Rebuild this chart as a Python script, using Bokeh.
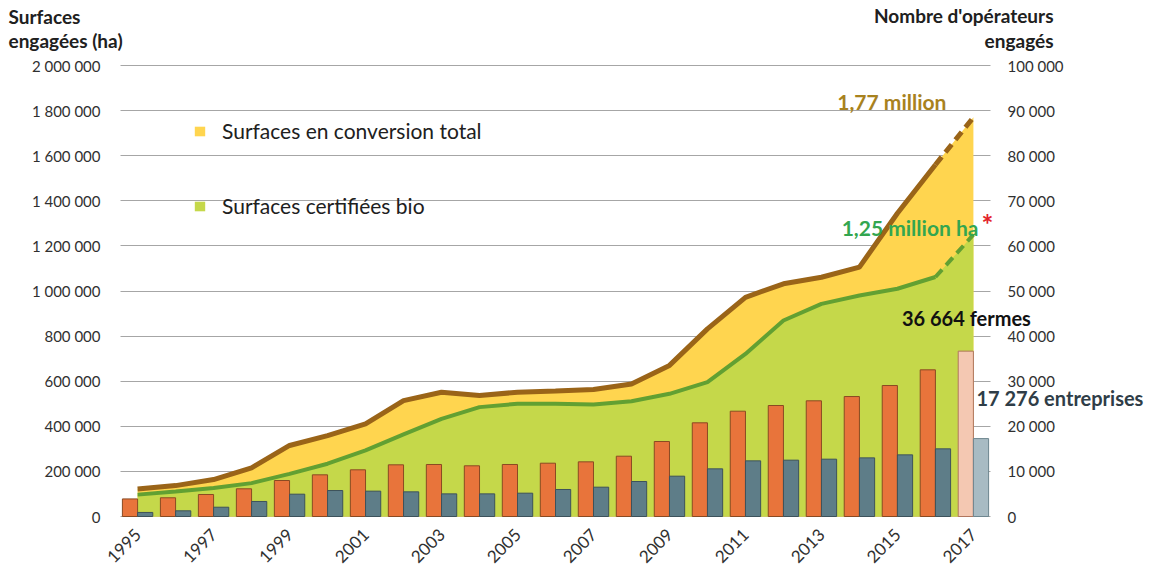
import math
from bokeh.plotting import figure
from bokeh.models import (ColumnDataSource, Range1d, LinearAxis, FixedTicker,
                          Label, Legend, LegendItem)
from bokeh.transform import dodge
from bokeh.embed import file_html
from bokeh.resources import INLINE

# ---------------- data ----------------
years = list(range(1995, 2018))
total_surface = [122000, 137000, 164000, 216000, 315000, 359000, 411000, 514000,
                 551000, 537000, 551000, 556000, 563000, 588000, 670000, 832000,
                 972000, 1032000, 1061000, 1106000, 1345000, 1560000, 1770000]
certified_surface = [97000, 111000, 126000, 148000, 189000, 234000, 293000, 364000,
                     433000, 485000, 500000, 500000, 497000, 511000, 544000, 596000,
                     721000, 869000, 943000, 980000, 1010000, 1062000, 1250000]
farms = [3900, 4150, 4880, 6140, 7980, 9240, 10350, 11460, 11530, 11240, 11530,
         11820, 12120, 13370, 16630, 20770, 23350, 24610, 25650, 26600, 29040,
         32520, 36664]
companies = [900, 1260, 2060, 3330, 4950, 5760, 5620, 5470, 5020, 5020, 5170,
             5990, 6500, 7760, 8940, 10570, 12340, 12490, 12710, 13000, 13670,
             15000, 17276]
label_years = list(range(1995, 2018, 2))
surface_ticks = list(range(0, 2000001, 200000))
ops_ticks = list(range(0, 100001, 10000))

legend_labels = ["Surfaces en conversion total", "Surfaces certifiées bio"]
left_title = ["Surfaces", "engagées (ha)"]
right_title = ["Nombre d'opérateurs", "engagés"]
note_total = "1,77 million"
note_cert = "1,25 million ha"
note_farms = "36 664 fermes"
note_comp = "17 276 entreprises"


def fr(n):
    return f"{n:,}".replace(",", " ")


FONT = "Lato"

# ---------------- layout geometry (pixels) ----------------
W, H = 1150, 573
PL, PR, PT, PB = 120, 990, 65, 516          # plot area edges on the canvas
x_lo, x_hi = years[0] - 0.45, years[-1] + 0.45
s_max, o_max = 2000000, 100000
ppx = (PR - PL) / (x_hi - x_lo)             # px per year
ppy_s = (PB - PT) / s_max                   # px per hectare
ppy_o = (PB - PT) / o_max                   # px per operator

x_range = Range1d(x_lo - PL / ppx, x_hi + (W - PR) / ppx)
y_range = Range1d(-(H - PB) / ppy_s, s_max + PT / ppy_s)
ops_range = Range1d(-(H - PB) / ppy_o, o_max + PT / ppy_o)

p = figure(width=W, height=H, x_range=x_range, y_range=y_range,
           output_backend="svg", toolbar_location=None,
           min_border=0, min_border_left=0, min_border_right=0,
           min_border_top=0, min_border_bottom=0,
           outline_line_color=None)
p.extra_y_ranges = {"ops": ops_range}

# areas
src = ColumnDataSource(dict(year=years, total=total_surface, cert=certified_surface))
a_tot = p.varea(x="year", y1=0, y2="total", source=src, fill_color="#FFD54F")
a_cert = p.varea(x="year", y1=0, y2="cert", source=src, fill_color="#C5D84A")

# bars
bsrc = ColumnDataSource(dict(year=years[:-1], farms=farms[:-1], comp=companies[:-1]))
lsrc = ColumnDataSource(dict(year=years[-1:], farms=farms[-1:], comp=companies[-1:]))
p.vbar(x=dodge("year", -0.2, range=p.x_range), top="farms", width=0.4, source=bsrc,
       y_range_name="ops", fill_color="#E8743B", line_color="#8A4A22", line_width=1)
p.vbar(x=dodge("year", 0.2, range=p.x_range), top="comp", width=0.4, source=bsrc,
       y_range_name="ops", fill_color="#5E7D88", line_color="#3D525B", line_width=1)
p.vbar(x=dodge("year", -0.2, range=p.x_range), top="farms", width=0.4, source=lsrc,
       y_range_name="ops", fill_color="#F4C8B2", line_color="#B0765E", line_width=1)
p.vbar(x=dodge("year", 0.2, range=p.x_range), top="comp", width=0.4, source=lsrc,
       y_range_name="ops", fill_color="#A8BBC3", line_color="#6E868F", line_width=1)

# lines
p.line(years[:-1], total_surface[:-1], line_color="#9A6418", line_width=5)
p.line(years[-2:], total_surface[-2:], line_color="#9A6418", line_width=5, line_dash="10 6")
p.line(years[:-1], certified_surface[:-1], line_color="#62A032", line_width=4)
p.line(years[-2:], certified_surface[-2:], line_color="#62A032", line_width=4, line_dash="10 6")

# grid
grid_col = "#A6A6A6"
p.xgrid.visible = False
p.ygrid.ticker = FixedTicker(ticks=surface_ticks)
p.ygrid.grid_line_color = grid_col
p.ygrid.bounds = (0, s_max)
try:
    p.ygrid[0].cross_bounds = (x_lo, x_hi)
except Exception:
    p.ygrid.visible = False
    p.segment(x0=x_lo, x1=x_hi, y0=surface_ticks, y1=surface_ticks,
              line_color=grid_col, line_width=1, level="underlay")

# axes
def style_axis(ax, size="15px"):
    ax.axis_line_color = None
    ax.major_tick_line_color = None
    ax.minor_tick_line_color = None
    ax.major_label_text_font = FONT
    ax.major_label_text_font_size = size
    ax.major_label_text_color = "#303030"


yax = p.yaxis[0]
style_axis(yax)
yax.fixed_location = x_lo
yax.bounds = (0, s_max)
yax.ticker = FixedTicker(ticks=surface_ticks)
yax.major_label_overrides = {t: fr(t) for t in surface_ticks}
yax.major_label_standoff = 14

xax = p.xaxis[0]
style_axis(xax, "17px")
xax.fixed_location = 0
xax.bounds = (x_lo, x_hi)
xax.ticker = FixedTicker(ticks=label_years)
xax.major_label_overrides = {y: str(y) for y in label_years}
xax.major_label_orientation = math.pi / 4
xax.major_label_standoff = 9

rax = LinearAxis(y_range_name="ops", ticker=FixedTicker(ticks=ops_ticks))
style_axis(rax)
rax.fixed_location = x_hi
rax.bounds = (0, o_max)
rax.major_label_overrides = {t: fr(t) for t in ops_ticks}
rax.major_label_standoff = 11
p.add_layout(rax, "right")

# legend
leg = Legend(items=[LegendItem(label=legend_labels[0], renderers=[a_tot]),
                    LegendItem(label=legend_labels[1], renderers=[a_cert])],
             location=(193, 355), orientation="vertical",
             background_fill_alpha=0, border_line_color=None,
             padding=0, margin=0, spacing=50,
             glyph_width=13, glyph_height=12, label_standoff=16,
             label_text_font=FONT, label_text_font_size="21px",
             label_text_color="#202020")
p.add_layout(leg, "center")

# titles
title_style = dict(text_font=FONT, text_font_style="bold", text_font_size="19px",
                   text_color="#202020", text_baseline="middle")
p.add_layout(Label(x=x_lo, y=s_max, x_offset=-112, y_offset=49, text=left_title[0],
                   text_align="left", **title_style))
p.add_layout(Label(x=x_lo, y=s_max, x_offset=-112, y_offset=25, text=left_title[1],
                   text_align="left", **title_style))
p.add_layout(Label(x=x_hi, y=s_max, x_offset=63, y_offset=50, text=right_title[0],
                   text_align="right", **title_style))
p.add_layout(Label(x=x_hi, y=s_max, x_offset=63, y_offset=25, text=right_title[1],
                   text_align="right", **title_style))

# notes
note_style = dict(text_font=FONT, text_font_style="bold", text_baseline="middle")
p.add_layout(Label(x=years[-1], y=total_surface[-1], x_offset=-27, y_offset=16,
                   text=note_total, text_align="right", text_color="#A8821E",
                   text_font_size="21px", **note_style))
p.add_layout(Label(x=years[-1], y=certified_surface[-1], x_offset=5, y_offset=7,
                   text=note_cert, text_align="right", text_color="#33A650",
                   text_font_size="21px", **note_style))
p.add_layout(Label(x=years[-1], y=certified_surface[-1], x_offset=8, y_offset=11,
                   text="*", text_align="left", text_color="#E3232B",
                   text_font_size="28px", **note_style))
p.add_layout(Label(x=years[-1], y=farms[-1], y_range_name="ops", x_offset=-7, y_offset=33,
                   text=note_farms, text_align="center", text_color="#111111",
                   text_font_size="20px", **note_style))
p.add_layout(Label(x=years[-1], y=companies[-1], y_range_name="ops", x_offset=3, y_offset=41,
                   text=note_comp, text_align="left", text_color="#2F3D47",
                   text_font_size="20px", **note_style))

open("out.html", "w").write(file_html(p, INLINE))
